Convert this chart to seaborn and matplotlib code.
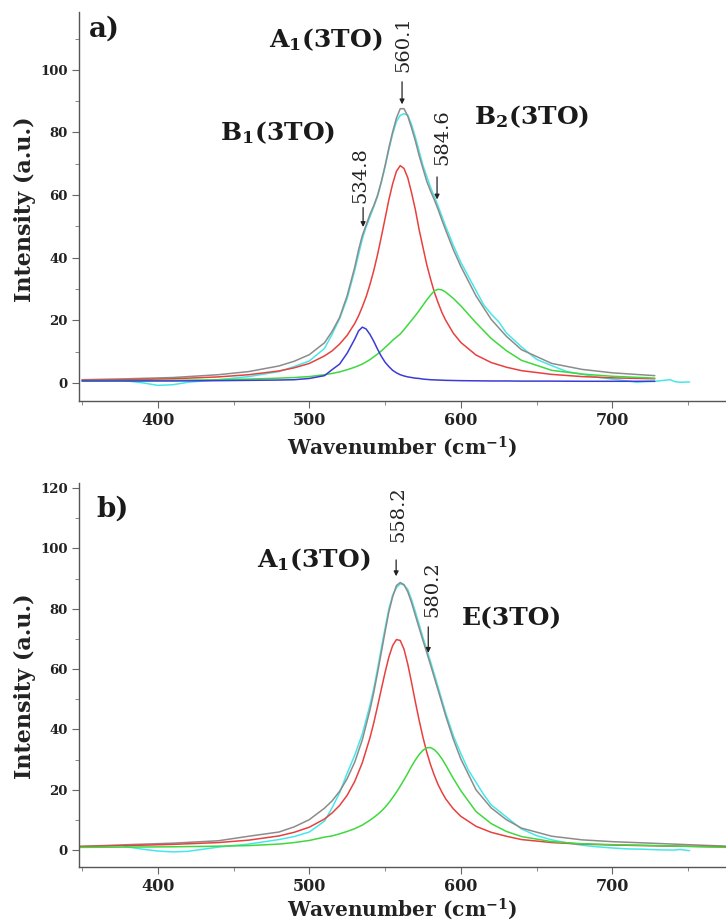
import matplotlib
matplotlib.use("Agg")
import matplotlib.pyplot as plt
import seaborn as sns
import numpy as np

# ---- panel a) data (read off the figure) ----
xa = [350, 380, 410, 440, 460, 480, 490, 500, 510, 515, 520, 525, 530, 532.5, 535, 537.5, 540,
      542.5, 545, 547.5, 550, 552.5, 555, 557.5, 560, 562.5, 565, 567.5, 570, 572.5, 575,
      577.5, 580, 582.5, 585, 587.5, 590, 595, 600, 610, 620, 630, 640, 660, 680, 700, 728]
red_a = [0.8, 1.0, 1.3, 1.9, 2.6, 3.8, 4.8, 6.2, 8.6, 10.2, 12.4, 15.2, 19.0, 21.4, 24.3, 27.5,
         31.4, 35.8, 40.9, 46.6, 52.5, 58.5, 63.6, 67.6, 69.4, 68.5, 65.5, 60.7, 55.3, 48.9,
         43.3, 37.8, 33.2, 29.0, 25.6, 22.5, 20.0, 15.9, 12.9, 8.9, 6.5, 5.0, 3.9, 2.7, 2.0,
         1.6, 1.3]
blue_a = [0.6, 0.6, 0.6, 0.7, 0.8, 0.9, 1.0, 1.4, 2.3, 4.2, 6.0, 9.5, 14.0, 16.6, 17.8, 17.2,
          15.5, 13.3, 10.8, 8.5, 6.6, 5.2, 4.0, 3.2, 2.6, 2.2, 1.9, 1.7, 1.5, 1.4, 1.2, 1.1, 1.0,
          0.95, 0.9, 0.85, 0.8, 0.75, 0.7, 0.65, 0.6, 0.6, 0.55, 0.55, 0.5, 0.5, 0.5]
green_a = [0.6, 0.7, 0.8, 1.0, 1.2, 1.5, 1.7, 2.0, 2.6, 3.0, 3.5, 4.2, 5.0, 5.5, 6.0, 6.7, 7.4,
           8.3, 9.2, 10.2, 11.3, 12.4, 13.6, 14.6, 15.6, 17.0, 18.5, 20.0, 21.5, 23.1, 24.8,
           26.5, 28.0, 29.4, 29.9, 29.7, 29.0, 27.0, 24.6, 19.2, 14.2, 10.3, 7.2, 4.0, 2.8, 2.1,
           1.5]
fit_a = [1.0, 1.3, 1.7, 2.6, 3.6, 5.4, 6.9, 9.0, 12.8, 16.4, 20.9, 27.9, 37.0, 42.5, 47.1, 50.4,
         53.8, 56.6, 59.9, 64.3, 69.4, 75.1, 80.2, 84.6, 87.6, 87.6, 85.2, 81.4, 77.3, 72.6,
         68.5, 64.4, 61.3, 58.5, 55.4, 52.0, 48.8, 42.6, 37.2, 27.8, 20.3, 14.9, 10.6, 6.2, 4.3,
         3.2, 2.3]
xa_exp = [368, 380, 390, 400, 410, 420, 440, 460, 480, 490, 500, 510, 515, 520, 525, 530, 532.5,
          535, 537.5, 540, 542.5, 545, 547.5, 550, 552.5, 555, 557.5, 560, 562.5, 565, 567.5,
          570, 572.5, 575, 577.5, 580, 582.5, 585, 587.5, 590, 595, 600, 605, 610, 615, 620,
          625, 630, 640, 650, 660, 670, 680, 690, 700, 710, 716, 722, 728, 734, 738, 742, 746,
          751]
exp_a = [1.0, 0.6, 0.0, -0.8, -0.6, 0.2, 1.0, 2.0, 3.6, 5.2, 7.0, 11.0, 15.5, 20.5, 27.0, 36.0,
         41.0, 46.0, 49.8, 53.0, 56.2, 59.5, 64.0, 69.0, 74.5, 79.5, 83.5, 85.5, 86.0, 85.5,
         82.5, 78.5, 74.0, 69.5, 66.0, 62.5, 59.5, 56.5, 53.2, 50.0, 44.0, 38.5, 34.0, 29.5,
         25.0, 22.0, 19.5, 16.0, 11.5, 7.5, 5.5, 3.6, 2.8, 1.8, 1.2, 0.6, 0.2, 0.4, 0.5, 0.8,
         1.0, 0.3, 0.2, 0.3]

# ---- panel b) data ----
xb = [348, 380, 410, 440, 460, 480, 490, 500, 510, 515, 520, 525, 530, 535, 540, 542.5, 545,
      547.5, 550, 552.5, 555, 557.5, 560, 562.5, 565, 567.5, 570, 572.5, 575, 577.5, 580,
      582.5, 585, 587.5, 590, 595, 600, 610, 620, 630, 640, 660, 680, 700, 730, 760, 776]
red_b = [1.2, 1.5, 1.9, 2.5, 3.3, 4.7, 5.9, 7.6, 10.3, 12.3, 14.8, 18.2, 22.8, 29.0, 37.2, 42.1,
         47.6, 53.3, 58.9, 64.0, 67.8, 69.8, 69.5, 66.6, 61.6, 55.5, 49.1, 43.0, 37.4, 32.5,
         28.3, 24.8, 21.7, 19.2, 17.0, 13.7, 11.2, 7.9, 5.9, 4.6, 3.5, 2.5, 2.0, 1.7, 1.4, 1.2,
         1.1]
green_b = [0.9, 1.0, 1.1, 1.3, 1.5, 2.0, 2.5, 3.2, 4.3, 4.7, 5.4, 6.2, 7.1, 8.3, 9.9, 10.8, 11.8,
           12.9, 14.2, 15.7, 17.4, 19.2, 21.2, 23.3, 25.5, 27.8, 29.9, 31.7, 33.1, 33.9, 34.0,
           33.3, 32.0, 30.3, 28.2, 23.8, 19.7, 12.8, 8.8, 6.2, 4.5, 2.8, 2.1, 1.8, 1.5, 1.1, 0.9]
fit_b = [1.2, 1.8, 2.3, 3.1, 4.6, 6.0, 7.7, 10.1, 13.9, 16.3, 19.5, 23.7, 29.2, 36.6, 46.4, 52.2,
         58.7, 65.5, 72.4, 79.0, 84.0, 87.7, 88.7, 88.0, 85.6, 82.0, 77.8, 73.6, 69.5, 65.5,
         61.4, 57.2, 53.0, 48.8, 44.5, 36.8, 30.2, 20.0, 14.0, 10.1, 7.3, 4.6, 3.4, 2.8, 2.2,
         1.6, 1.3]
xb_exp = [378, 390, 400, 410, 420, 440, 460, 480, 490, 500, 510, 515, 520, 525, 530, 535, 540,
          542.5, 545, 547.5, 550, 552.5, 555, 557.5, 560, 562.5, 565, 567.5, 570, 572.5, 575,
          577.5, 580, 582.5, 585, 587.5, 590, 595, 600, 605, 610, 615, 620, 630, 640, 650, 660,
          670, 680, 690, 700, 710, 720, 730, 740, 745, 751]
exp_b = [1.2, 0.3, -0.3, -0.6, -0.4, 1.0, 2.0, 3.5, 4.5, 6.0, 9.6, 14.0, 19.0, 25.5, 31.5, 38.5,
         48.0, 53.5, 60.0, 67.0, 73.5, 80.0, 84.5, 87.0, 88.3, 87.8, 86.4, 83.0, 79.0, 74.8,
         70.5, 66.5, 62.5, 58.3, 54.0, 49.8, 45.5, 38.0, 32.0, 26.5, 22.5, 18.5, 15.0, 11.0,
         7.0, 4.8, 3.4, 2.4, 1.6, 1.1, 0.7, 0.4, 0.3, 0.1, 0.0, 0.2, -0.2]

# peak labels: (text, arrow x, arrow tip y, arrow tail y, text x, text bottom y)
peaks_a = [("534.8", 535.5, 49.8, 56.0, 533.5, 57.5),
           ("560.1", 561.2, 89.0, 96.2, 561.9, 99.4),
           ("584.6", 584.3, 58.6, 65.8, 587.6, 69.6)]
peaks_b = [("558.2", 557.3, 90.8, 96.2, 558.6, 102.2),
           ("580.2", 578.5, 65.4, 74.0, 581.2, 77.3)]
modes_a = [("A$_\\mathrm{1}$(3TO)", 511, 109.6), ("B$_\\mathrm{1}$(3TO)", 479, 80.0),
           ("B$_\\mathrm{2}$(3TO)", 647, 85.0)]
modes_b = [("A$_\\mathrm{1}$(3TO)", 503, 96.2), ("E(3TO)", 634, 77.0)]

C_FIT, C_EXP, C_RED, C_GRN, C_BLU = "#8c8c8c", "#45e8ea", "#e8403f", "#3fd83f", "#3b3bd6"

sns.set_style("ticks")
plt.rcParams["font.family"] = ["DejaVu Serif"]
plt.rcParams["mathtext.fontset"] = "custom"
plt.rcParams["mathtext.rm"] = "DejaVu Serif:bold"
plt.rcParams["mathtext.it"] = "DejaVu Serif:bold"
plt.rcParams["mathtext.bf"] = "DejaVu Serif:bold"

fig = plt.figure(figsize=(7.26, 9.21), dpi=100)
W, H = 726, 921
ax1 = fig.add_axes([79 / W, 1 - 401 / H, 647 / W, 389 / H])
ax2 = fig.add_axes([79 / W, 1 - 867 / H, 647 / W, 384 / H])


def draw(ax, curves):
    for xs, ys, c in curves:
        sns.lineplot(x=xs, y=ys, ax=ax, color=c, linewidth=1.1, estimator=None, sort=False)


draw(ax1, [(xa_exp, exp_a, C_EXP), (xa, fit_a, C_FIT), (xa, red_a, C_RED),
           (xa, green_a, C_GRN), (xa, blue_a, C_BLU)])
draw(ax2, [(xb_exp, exp_b, C_EXP), (xb, fit_b, C_FIT), (xb, red_b, C_RED),
           (xb, green_b, C_GRN)])


def style(ax, ylim, yticks, peaks, modes, tag, tagpos, ylab_y, xlab_y):
    ax.set_xlim(348, 775)
    ax.set_ylim(*ylim)
    ax.set_xticks([400, 500, 600, 700])
    ax.set_xticks([350, 450, 550, 650, 750], minor=True)
    ax.set_yticks(yticks)
    ax.set_yticks(np.arange(10, ylim[1], 20), minor=True)
    sns.despine(ax=ax)
    for s in ("left", "bottom"):
        ax.spines[s].set_color("#555555")
        ax.spines[s].set_linewidth(1.0)
    ax.tick_params(axis="x", which="major", labelsize=11.5, length=5, width=0.8,
                   color="#666666", pad=3)
    ax.tick_params(axis="y", which="major", labelsize=9.5, length=5, width=0.8,
                   color="#666666", pad=3)
    ax.tick_params(which="minor", length=3, width=0.7, color="#888888")
    for lab in ax.get_xticklabels() + ax.get_yticklabels():
        lab.set_fontweight("bold")
        lab.set_color("#222222")
    ax.set_ylabel("Intensity (a.u.)", fontsize=16, fontweight="bold", color="#222222")
    ax.set_xlabel("Wavenumber (cm$^{-1}$)", fontsize=14.5, fontweight="bold", color="#222222")
    ax.yaxis.set_label_coords(-54 / 647, ylab_y)
    ax.xaxis.set_label_coords(0.5, xlab_y)
    ax.xaxis.label.set_verticalalignment("center")
    ax.yaxis.label.set_verticalalignment("center")
    for txt, x, tip, tail, tx, ty in peaks:
        ax.annotate("", xy=(x, tip), xytext=(x, tail),
                    arrowprops=dict(arrowstyle="-|>", color="#222222", lw=0.9,
                                    mutation_scale=7, shrinkA=0, shrinkB=0))
        ax.text(tx, ty, txt, rotation=90, ha="center", va="bottom", fontsize=14,
                color="#222222")
    for txt, x, y in modes:
        ax.text(x, y, txt, ha="center", va="center", fontsize=18, fontweight="bold",
                color="#1a1a1a")
    ax.text(tagpos[0], tagpos[1], tag, ha="center", va="center", fontsize=20,
            fontweight="bold", color="#1a1a1a")


style(ax1, (-5.8, 118.5), [0, 20, 40, 60, 80, 100], peaks_a, modes_a, "a)", (365, 113),
      0.494, -0.118)
style(ax2, (-5.6, 121.7), [0, 20, 40, 60, 80, 100, 120], peaks_b, modes_b, "b)", (370, 113),
      0.471, -0.11)

fig.savefig("out.png", dpi=100)
